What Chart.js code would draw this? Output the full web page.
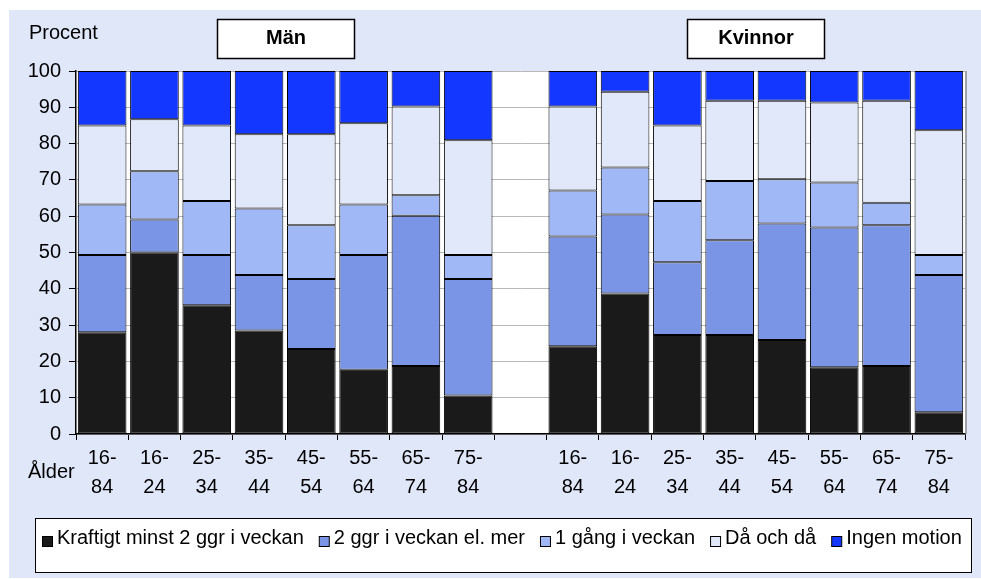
<!DOCTYPE html>
<html>
<head>
<meta charset="utf-8">
<script src="https://cdn.jsdelivr.net/npm/chart.js@4"></script>
<style>
  html, body { margin: 0; padding: 0; background: #ffffff; }
  canvas { display: block; }
</style>
</head>
<body>
<canvas id="myChart" width="981" height="579"></canvas>
<script>
//Age groups, men first, then an empty slot, then women
var ageLabels = [["16-", "84"], ["16-", "24"], ["25-", "34"], ["35-", "44"], ["45-", "54"], ["55-", "64"], ["65-", "74"], ["75-", "84"],
    "",
    ["16-", "84"], ["16-", "24"], ["25-", "34"], ["35-", "44"], ["45-", "54"], ["55-", "64"], ["65-", "74"], ["75-", "84"]];

var seriesNames = ["Kraftigt minst 2 ggr i veckan", "2 ggr i veckan el. mer", "1 gång i veckan", "Då och då", "Ingen motion"];
var seriesColors = ["#1a1a1a", "#7b95e6", "#a1b8f6", "#e0e8fa", "#1437ff"];

//Percent per group
var kraftigt = [28.0, 50.0, 35.5, 28.5, 23.4, 17.7, 18.7, 10.6, null, 24.2, 38.7, 27.3, 27.3, 25.9, 18.4, 18.7, 6.0];
var tvaGgr = [21.3, 9.1, 13.8, 15.3, 19.3, 31.6, 41.4, 32.1, null, 30.2, 21.8, 20.0, 26.1, 32.1, 38.5, 38.8, 37.8];
var enGang = [13.9, 13.3, 14.9, 18.3, 14.8, 13.9, 5.7, 6.6, null, 12.7, 12.9, 16.9, 16.3, 12.2, 12.4, 6.2, 5.5];
var daOchDa = [21.8, 14.3, 20.8, 20.5, 25.1, 22.4, 24.4, 31.6, null, 23.1, 20.9, 20.8, 22.1, 21.6, 22.0, 28.1, 34.4];
var ingenMotion = [15.0, 13.3, 15.0, 17.4, 17.4, 14.4, 9.8, 19.1, null, 9.8, 5.7, 15.0, 8.2, 8.2, 8.7, 8.2, 16.3];

var yTicks = [0, 10, 20, 30, 40, 50, 60, 70, 80, 90, 100];

var groupTitles = ["Män", "Kvinnor"];

var plainFont = "'Liberation Sans', Arial, sans-serif";

//Build datasets
var allSeries = [kraftigt, tvaGgr, enGang, daOchDa, ingenMotion];
var datasets = [];
for (var i = 0; i < allSeries.length; i++) {
    datasets.push({
        label: seriesNames[i],
        data: allSeries[i],
        backgroundColor: seriesColors[i],
        borderColor: "#000000",
        borderWidth: 1,
        borderSkipped: false,
        barPercentage: 0.93,
        categoryPercentage: 1.0
    });
}

//Background panel, titles, legend and the odd labels
var decorPlugin = {
    id: "decor",
    beforeDraw: function (chart) {
        var ctx = chart.ctx;
        var a = chart.chartArea;
        ctx.save();
        ctx.fillStyle = "#ffffff";
        ctx.fillRect(0, 0, chart.width, chart.height);
        ctx.fillStyle = "#dfe7f9";
        ctx.fillRect(9, 10, chart.width - 9, 568);
        ctx.fillStyle = "#ffffff";
        ctx.fillRect(a.left, a.top, a.right - a.left, a.bottom - a.top);
        ctx.restore();
    },
    afterDraw: function (chart) {
        var ctx = chart.ctx;
        var a = chart.chartArea;
        var xs = chart.scales.x;
        ctx.save();

        //grey frame on the right side
        ctx.strokeStyle = "#8c8c8c";
        ctx.lineWidth = 1.5;
        ctx.beginPath();
        ctx.moveTo(a.right + 1, a.top);
        ctx.lineTo(a.right + 1, a.bottom);
        ctx.stroke();

        //group title boxes
        var centers = [
            (xs.getPixelForValue(3) + xs.getPixelForValue(4)) / 2,
            (xs.getPixelForValue(12) + xs.getPixelForValue(13)) / 2
        ];
        for (var g = 0; g < groupTitles.length; g++) {
            var bx = Math.round(centers[g] - 68.5) + 0.5;
            ctx.fillStyle = "#ffffff";
            ctx.fillRect(bx, 19.5, 137, 39);
            ctx.strokeStyle = "#000000";
            ctx.lineWidth = 1.5;
            ctx.strokeRect(bx, 19.5, 137, 39);
            ctx.fillStyle = "#000000";
            ctx.font = "bold 20px " + plainFont;
            ctx.textAlign = "center";
            ctx.textBaseline = "middle";
            ctx.fillText(groupTitles[g], bx + 68.5, 38.5);
        }

        //axis captions
        ctx.fillStyle = "#000000";
        ctx.textAlign = "left";
        ctx.textBaseline = "middle";
        ctx.font = "20px " + plainFont;
        ctx.fillText("Procent", 29, 33.5);
        ctx.fillText("Ålder", 28, 472);

        //legend
        ctx.fillStyle = "#ffffff";
        ctx.fillRect(35.5, 518.5, 936, 54);
        ctx.strokeStyle = "#000000";
        ctx.lineWidth = 1;
        ctx.strokeRect(35.5, 518.5, 936, 54);
        ctx.font = "20px " + plainFont;
        var lx = 42;
        var ly = 538;
        for (var s = 0; s < chart.data.datasets.length; s++) {
            var ds = chart.data.datasets[s];
            ctx.fillStyle = ds.backgroundColor;
            ctx.fillRect(lx + 0.5, ly - 1.5, 10, 10);
            ctx.strokeStyle = "#000000";
            ctx.strokeRect(lx + 0.5, ly - 1.5, 10, 10);
            ctx.fillStyle = "#000000";
            ctx.fillText(ds.label, lx + 15, ly);
            lx += 15 + ctx.measureText(ds.label).width + 15;
        }
        ctx.restore();
    }
};

var infoChart = new Chart("myChart", {
    type: "bar",
    data: {
        labels: ageLabels,
        datasets: datasets
    },
    options: {
        responsive: false,
        animation: false,
        layout: { padding: { left: 0, top: 71, right: 16, bottom: 0 } },
        plugins: {
            legend: { display: false },
            tooltip: { enabled: false }
        },
        scales: {
            x: {
                stacked: true,
                afterFit: function (scale) { scale.height = 145; },
                grid: {
                    offset: true,
                    drawOnChartArea: false,
                    drawTicks: true,
                    tickLength: 6,
                    tickColor: "#000000"
                },
                border: { color: "#000000", width: 1.5 },
                ticks: {
                    color: "#000000",
                    maxRotation: 0,
                    autoSkip: false,
                    padding: 4,
                    font: { family: plainFont, size: 20, lineHeight: 1.45 }
                }
            },
            y: {
                stacked: true,
                min: 0,
                max: 100,
                afterFit: function (scale) { scale.width = 76; },
                afterBuildTicks: function (scale) {
                    scale.ticks = yTicks.map(function (v) { return { value: v }; });
                },
                grid: {
                    color: "#b8b8b8",
                    tickLength: 7,
                    tickColor: "#000000"
                },
                border: { color: "#000000", width: 1.5 },
                ticks: {
                    color: "#000000",
                    padding: 8,
                    font: { family: plainFont, size: 20 }
                }
            }
        }
    },
    plugins: [decorPlugin]
});
</script>
</body>
</html>
